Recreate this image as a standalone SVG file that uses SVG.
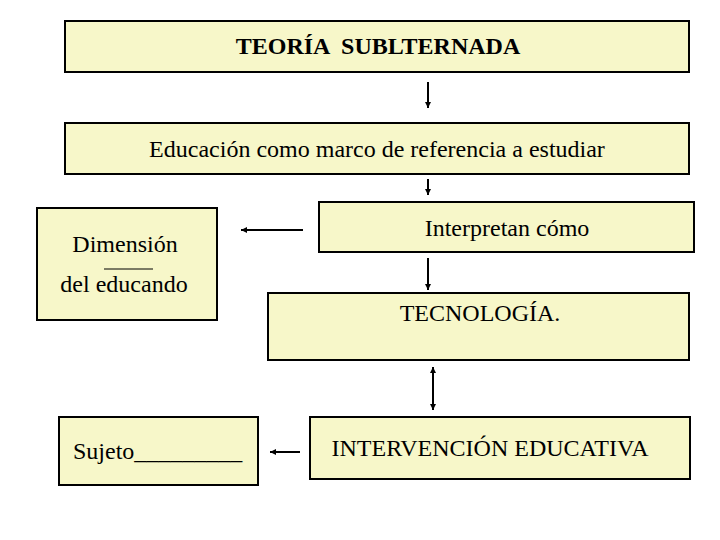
<svg xmlns="http://www.w3.org/2000/svg" width="720" height="540" viewBox="0 0 720 540">
<style>
.box{fill:#f7f7c9;stroke:#000;stroke-width:2}
.t{font-family:'Liberation Serif','Times New Roman',Times,serif;font-size:24px;fill:#000}
.b{font-weight:bold}
.c{stroke:#000;stroke-width:2;fill:none}
</style>
<defs>
<marker id="ah" markerWidth="8" markerHeight="8" refX="6" refY="4" orient="auto" markerUnits="userSpaceOnUse">
<path d="M0,1 L6,4 L0,7 Z" fill="#000"/>
</marker>
<marker id="as" markerWidth="8" markerHeight="8" refX="0" refY="4" orient="auto" markerUnits="userSpaceOnUse">
<path d="M6,1 L0,4 L6,7 Z" fill="#000"/>
</marker>
</defs>
<rect width="720" height="540" fill="#fff"/>
<g id="teoria">
<rect class="box" x="65" y="21" width="624" height="51"/>
<text class="t b" x="378" y="54" text-anchor="middle" style="white-space:pre">TEORÍA  SUBLTERNADA</text>
</g>
<g id="educacion">
<rect class="box" x="65" y="123" width="624" height="51"/>
<text class="t" x="377" y="157" text-anchor="middle">Educación como marco de referencia a estudiar</text>
</g>
<g id="interpretan">
<rect class="box" x="319" y="202" width="375" height="50"/>
<text class="t" x="507" y="236" text-anchor="middle">Interpretan cómo</text>
</g>
<g id="dimension">
<rect class="box" x="37" y="208" width="180" height="112"/>
<text class="t" x="125" y="252" text-anchor="middle">Dimensión</text>
<line x1="104" y1="269" x2="153" y2="269" stroke="#000" stroke-width="1"/>
<text class="t" x="124" y="292" text-anchor="middle">del educando</text>
</g>
<g id="tecnologia">
<rect class="box" x="268" y="293" width="421" height="67"/>
<text class="t" x="480" y="321" text-anchor="middle">TECNOLOGÍA.</text>
</g>
<g id="intervencion">
<rect class="box" x="310" y="417" width="380" height="62"/>
<text class="t" x="490" y="456" text-anchor="middle">INTERVENCIÓN EDUCATIVA</text>
</g>
<g id="sujeto">
<rect class="box" x="59" y="417" width="199" height="68"/>
<text class="t" x="73" y="459">Sujeto_________</text>
</g>
<g id="connectors">
<line class="c" x1="428" y1="82" x2="428" y2="108" marker-end="url(#ah)"/>
<line class="c" x1="428" y1="179" x2="428" y2="195" marker-end="url(#ah)"/>
<line class="c" x1="303" y1="230" x2="241" y2="230" marker-end="url(#ah)"/>
<line class="c" x1="428" y1="258" x2="428" y2="290" marker-end="url(#ah)"/>
<line class="c" x1="433" y1="367" x2="433" y2="410" marker-start="url(#as)" marker-end="url(#ah)"/>
<line class="c" x1="300" y1="452" x2="270" y2="452" marker-end="url(#ah)"/>
</g>
</svg>
